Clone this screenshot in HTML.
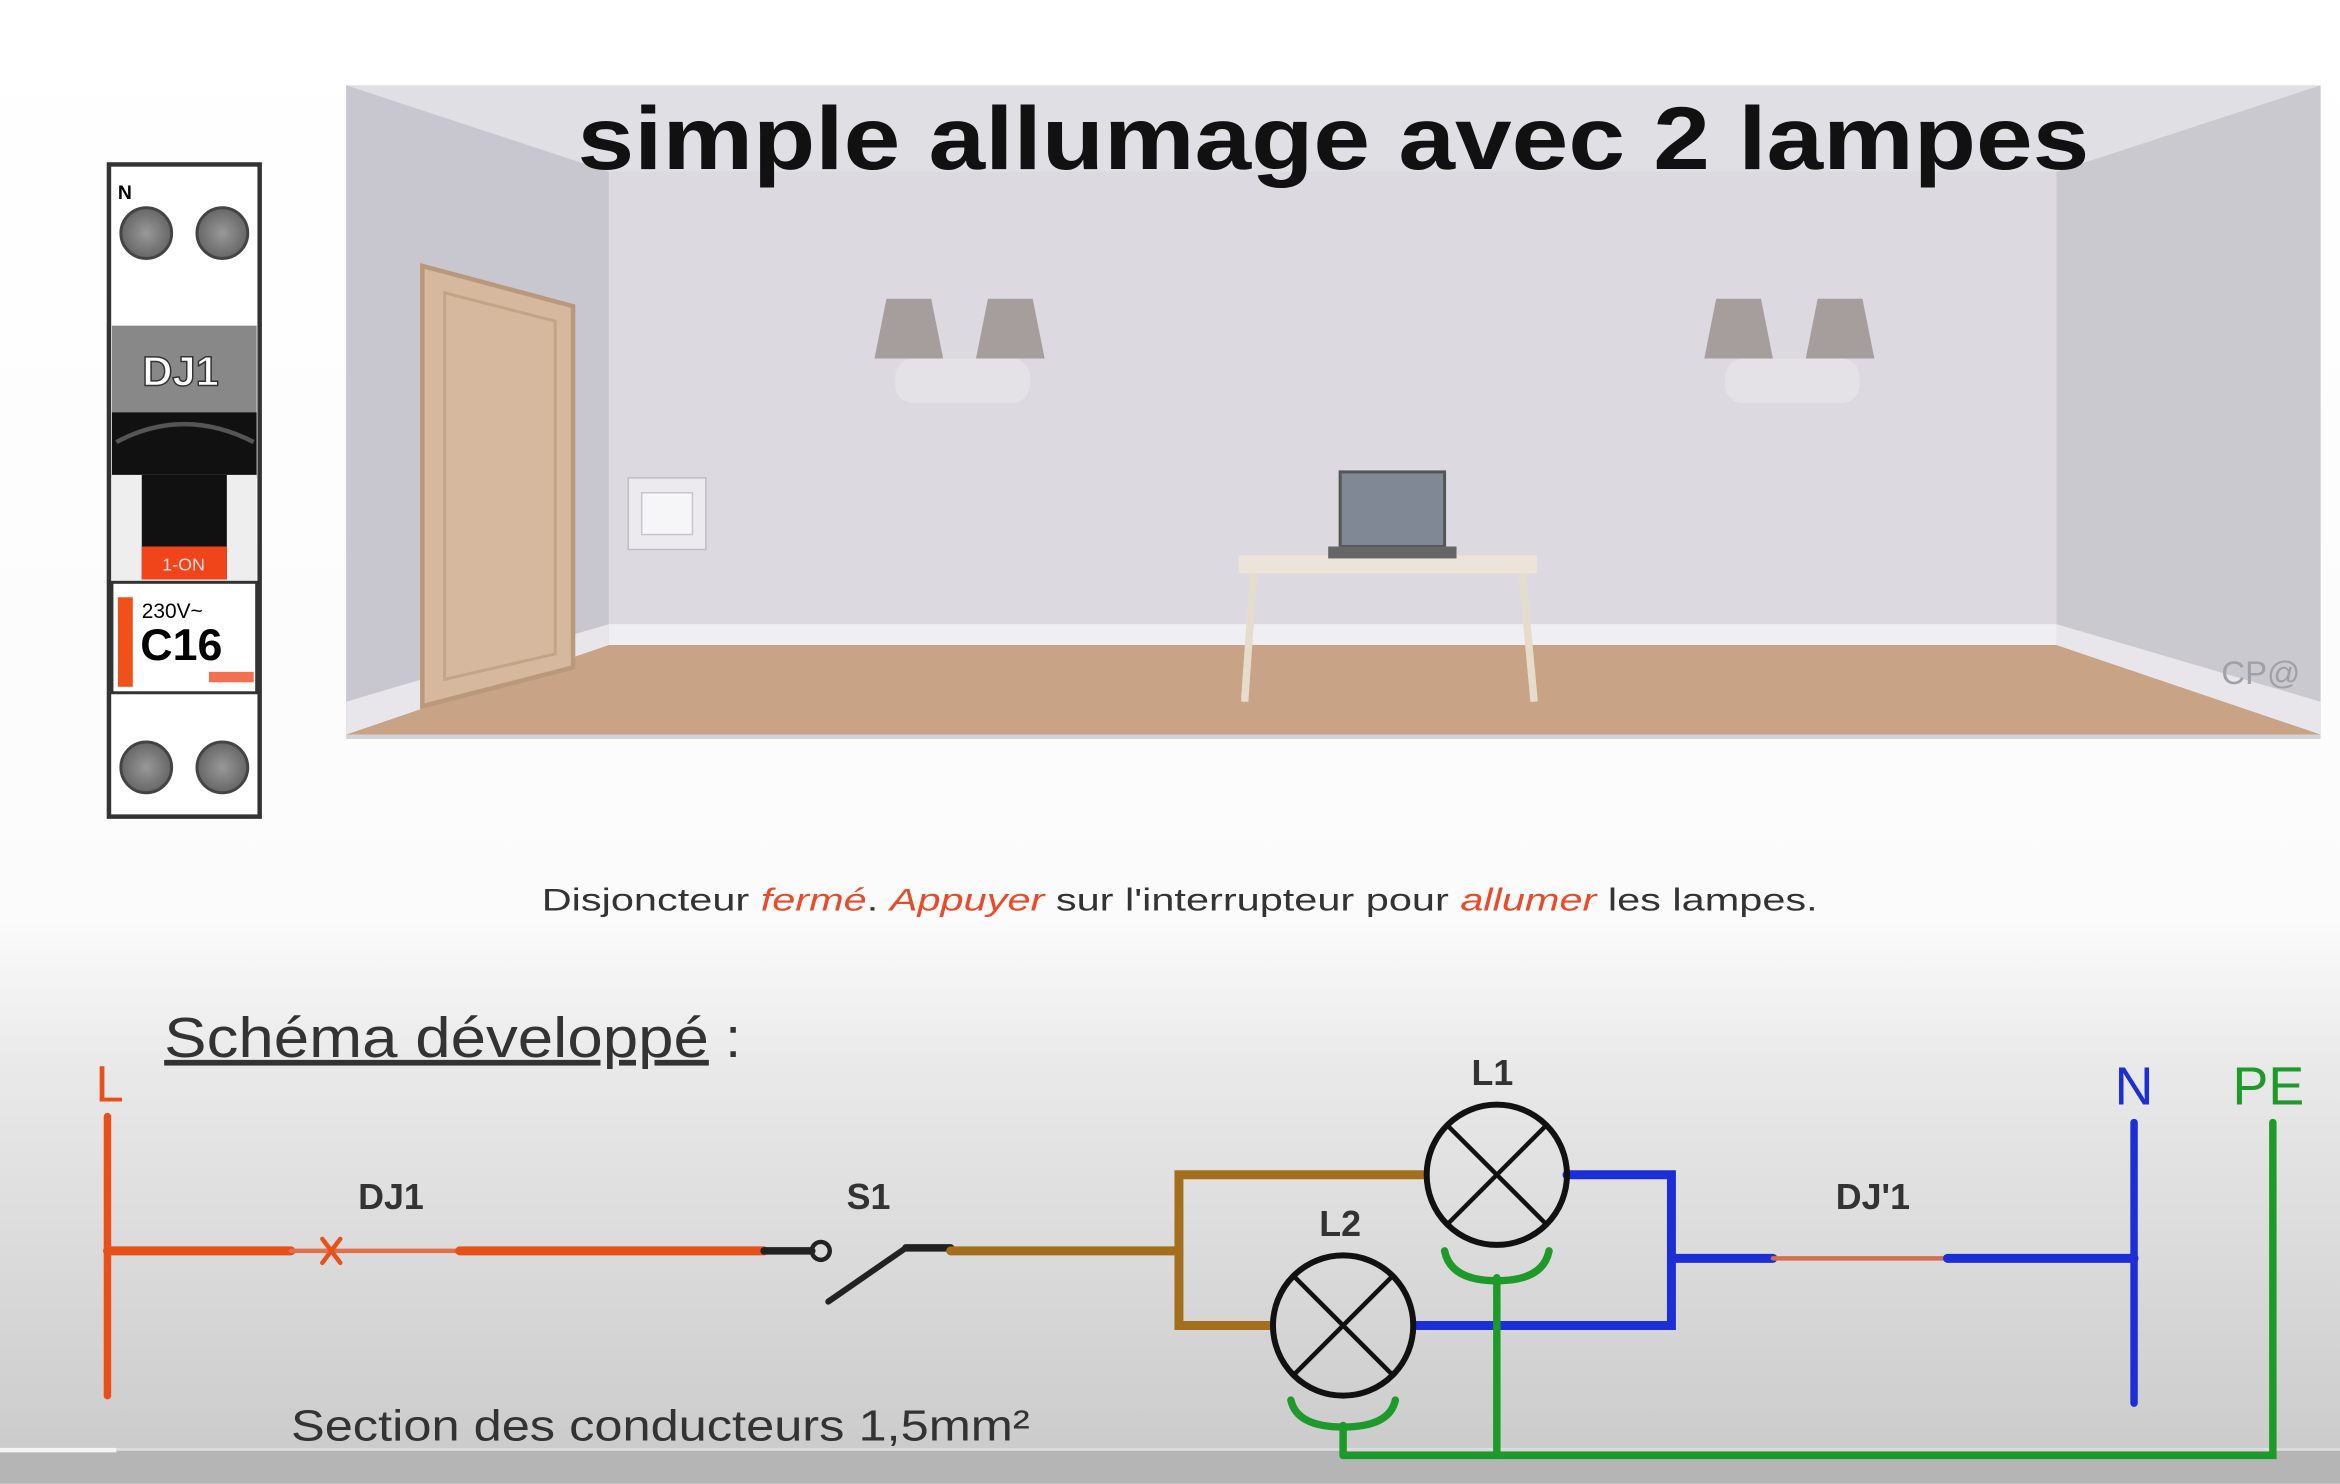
<!DOCTYPE html>
<html><head><meta charset="utf-8"><style>html,body{margin:0;padding:0;background:#fff}svg{display:block}</style></head>
<body>
<svg width="2340" height="1484" viewBox="0 0 1568 994" xmlns="http://www.w3.org/2000/svg" font-family="Liberation Sans, sans-serif">
<defs>
<linearGradient id="bg" x1="0" y1="0" x2="0" y2="1">
<stop offset="0" stop-color="#ffffff"/><stop offset="0.62" stop-color="#fbfbfb"/><stop offset="0.72" stop-color="#e9e9e9"/><stop offset="1" stop-color="#c9c9c9"/>
</linearGradient>
<radialGradient id="sc"><stop offset="0" stop-color="#999"/><stop offset="1" stop-color="#666"/></radialGradient>
</defs>
<rect width="1568" height="994" fill="url(#bg)"/>
<rect x="0" y="970" width="1568" height="24" fill="#b5b5b5"/>
<rect x="0" y="970" width="1568" height="2" fill="#dcdcdc"/>
<rect x="0" y="970" width="78" height="3" fill="#f4f4f4"/>

<!-- room -->
<rect x="232" y="57" width="1323" height="438" fill="#d4d2d8"/>
<polygon points="232,57 1555,57 1378,115 408,115" fill="#e0dfe4"/>
<polygon points="232,57 408,115 408,430 232,492" fill="#c8c6ce"/>
<polygon points="1555,57 1378,115 1378,430 1555,492" fill="#cbc9d0"/>
<rect x="408" y="115" width="970" height="305" fill="#dcdae0"/>
<polygon points="408,418 1378,418 1378,432 408,432" fill="#efeef2"/>
<polygon points="408,432 1378,432 1555,492 232,492" fill="#c9a385"/>
<polygon points="232,470 408,418 408,432 232,492" fill="#e8e6ea"/>
<polygon points="1555,470 1378,418 1378,432 1555,492" fill="#e8e6ea"/>
<!-- door -->
<polygon points="283,178 384,205 384,447 283,473" fill="#d6b89e" stroke="#b9987c" stroke-width="3"/>
<polygon points="298,196 372,215 372,438 298,455" fill="none" stroke="#c4a487" stroke-width="2"/>
<!-- switch -->
<rect x="421" y="320" width="52" height="48" fill="#eceaee" stroke="#c0bec4"/>
<rect x="430" y="330" width="34" height="28" fill="#f6f5f8" stroke="#c8c6cc"/>
<!-- lamps -->
<g fill="#a59e9c">
<polygon points="594,200 624,200 632,240 586,240"/><polygon points="662,200 692,200 700,240 654,240"/>
<polygon points="1150,200 1180,200 1188,240 1142,240"/><polygon points="1218,200 1248,200 1256,240 1210,240"/>
</g>
<g fill="#e4e2e6"><rect x="600" y="240" width="90" height="30" rx="12"/><rect x="1156" y="240" width="90" height="30" rx="12"/></g>
<!-- table & laptop -->
<rect x="830" y="372" width="200" height="12" fill="#ece4d8"/>
<g stroke="#e6dccc" stroke-width="5"><line x1="840" y1="384" x2="834" y2="470"/><line x1="1020" y1="384" x2="1028" y2="470"/></g>
<rect x="898" y="316" width="70" height="50" fill="#7f8894" stroke="#555" stroke-width="2"/>
<rect x="890" y="366" width="86" height="8" fill="#666"/>
<text x="1515" y="458" font-size="22" fill="#a0a0a8" text-anchor="middle">CP@</text>
<text x="387" y="113" font-size="60" font-weight="bold" fill="#111" textLength="1013" lengthAdjust="spacingAndGlyphs">simple allumage avec 2 lampes</text>

<!-- DJ1 module -->
<rect x="73" y="110" width="101" height="437" fill="#fff" stroke="#333" stroke-width="3"/>
<text x="79" y="133" font-size="13" font-weight="bold">N</text>
<g fill="url(#sc)" stroke="#444" stroke-width="2">
<circle cx="98" cy="156" r="17"/><circle cx="149" cy="156" r="17"/>
<circle cx="98" cy="514" r="17"/><circle cx="149" cy="514" r="17"/>
</g>
<rect x="75" y="218" width="97" height="58" fill="#888"/>
<text x="121" y="258" font-size="28" font-weight="bold" fill="#fff" stroke="#333" stroke-width="1" text-anchor="middle">DJ1</text>
<path d="M75,276 L172,276 L172,320 L75,320Z" fill="#111"/>
<path d="M78,296 Q123,272 170,296" stroke="#555" stroke-width="3" fill="none"/>
<rect x="75" y="318" width="97" height="72" fill="#eee"/>
<rect x="95" y="318" width="57" height="70" fill="#111"/>
<rect x="95" y="366" width="57" height="22" fill="#f0451a"/>
<text x="123" y="382" font-size="12" fill="#fdd" text-anchor="middle">1-ON</text>
<rect x="75" y="390" width="97" height="74" fill="#fff" stroke="#333" stroke-width="2"/>
<rect x="79" y="400" width="10" height="60" fill="#f0501a"/>
<rect x="140" y="450" width="30" height="7" fill="#f07050"/>
<text x="95" y="414" font-size="14">230V~</text>
<text x="94" y="442" font-size="30" font-weight="bold">C16</text>

<text x="363" y="610" font-size="21" fill="#333" textLength="855" lengthAdjust="spacingAndGlyphs">Disjoncteur <tspan fill="#e84a2a" font-style="italic">fermé</tspan>. <tspan fill="#e84a2a" font-style="italic">Appuyer</tspan> sur l'interrupteur pour <tspan fill="#e84a2a" font-style="italic">allumer</tspan> les lampes.</text>

<!-- schema -->
<text x="110" y="708" font-size="38" fill="#333" text-decoration="underline" textLength="365" lengthAdjust="spacingAndGlyphs">Schéma développé</text>
<text x="486" y="708" font-size="38" fill="#333">:</text>
<text x="64" y="738" font-size="34" fill="#e8501a">L</text>
<g stroke-linecap="round" fill="none">
<line x1="72" y1="748" x2="72" y2="935" stroke="#e8501a" stroke-width="5"/>
<line x1="72" y1="838" x2="195" y2="838" stroke="#e8501a" stroke-width="6"/>
<line x1="195" y1="838" x2="308" y2="838" stroke="#e0704a" stroke-width="3"/>
<line x1="308" y1="838" x2="512" y2="838" stroke="#e8501a" stroke-width="6"/>
<line x1="216" y1="830" x2="228" y2="846" stroke="#e8501a" stroke-width="3"/>
<line x1="228" y1="830" x2="216" y2="846" stroke="#e8501a" stroke-width="3"/>
<line x1="512" y1="838" x2="544" y2="838" stroke="#222" stroke-width="5"/>
<circle cx="550" cy="838" r="6" stroke="#222" stroke-width="3"/>
<line x1="555" y1="872" x2="607" y2="836" stroke="#222" stroke-width="4"/>
<line x1="607" y1="836" x2="637" y2="836" stroke="#222" stroke-width="5"/>
<line x1="637" y1="838" x2="790" y2="838" stroke="#a36f1c" stroke-width="6"/>
<polyline points="955,787 790,787 790,888 852,888" stroke="#a36f1c" stroke-width="6"/>
<polyline points="1050,787 1120,787 1120,888 948,888" stroke="#1c2ed6" stroke-width="6"/>
<line x1="1120" y1="843" x2="1188" y2="843" stroke="#1c2ed6" stroke-width="6"/>
<line x1="1188" y1="843" x2="1305" y2="843" stroke="#d0704e" stroke-width="3"/>
<line x1="1305" y1="843" x2="1430" y2="843" stroke="#1c2ed6" stroke-width="6"/>
<line x1="1430" y1="752" x2="1430" y2="940" stroke="#1c2ed6" stroke-width="5"/>
<polyline points="1523,752 1523,975 900,975" stroke="#1e9a2a" stroke-width="5"/>
<line x1="1003" y1="856" x2="1003" y2="975" stroke="#1e9a2a" stroke-width="5"/>
<line x1="900" y1="955" x2="900" y2="975" stroke="#1e9a2a" stroke-width="5"/>
<path d="M968,838 Q972,858 1003,858 Q1034,858 1038,838" stroke="#1e9a2a" stroke-width="5"/>
<path d="M865,938 Q869,956 900,956 Q931,956 935,938" stroke="#1e9a2a" stroke-width="5"/>
<circle cx="1003" cy="787" r="47" stroke="#111" stroke-width="4"/>
<line x1="970" y1="754" x2="1036" y2="820" stroke="#111" stroke-width="3"/>
<line x1="1036" y1="754" x2="970" y2="820" stroke="#111" stroke-width="3"/>
<circle cx="900" cy="888" r="47" stroke="#111" stroke-width="4"/>
<line x1="867" y1="855" x2="933" y2="921" stroke="#111" stroke-width="3"/>
<line x1="933" y1="855" x2="867" y2="921" stroke="#111" stroke-width="3"/>
</g>
<g font-size="24" font-weight="bold" fill="#333" text-anchor="middle">
<text x="262" y="810">DJ1</text><text x="582" y="810">S1</text><text x="1255" y="810">DJ'1</text>
<text x="1000" y="727">L1</text><text x="898" y="828">L2</text>
</g>
<text x="1430" y="740" font-size="36" fill="#1c2ed6" text-anchor="middle">N</text>
<text x="1520" y="740" font-size="36" fill="#1e9a2a" text-anchor="middle">PE</text>
<text x="195" y="965" font-size="29" fill="#333" textLength="495" lengthAdjust="spacingAndGlyphs">Section des conducteurs 1,5mm²</text>
</svg>
</body></html>
